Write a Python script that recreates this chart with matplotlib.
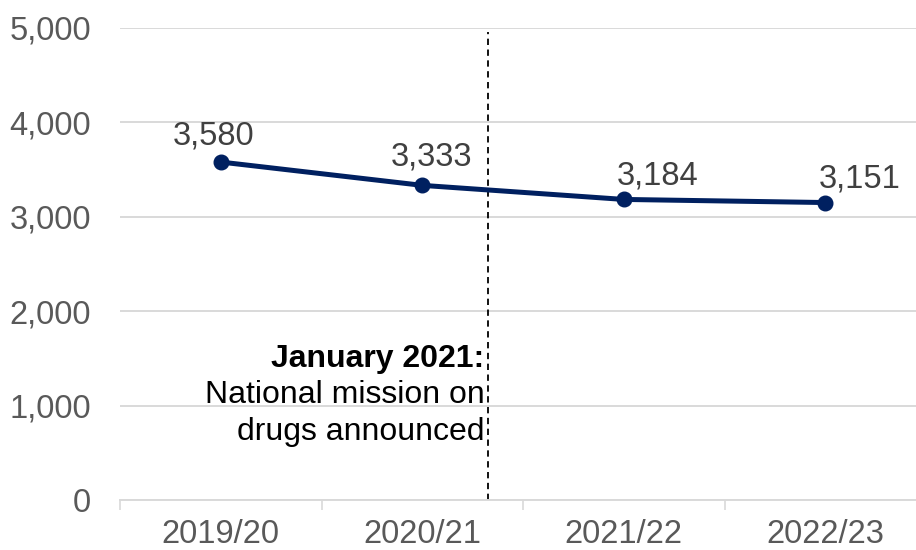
import matplotlib
matplotlib.use("Agg")
import matplotlib.pyplot as plt
from matplotlib.ticker import FuncFormatter, FixedLocator

years = ["2019/20", "2020/21", "2021/22", "2022/23"]
deaths = [3580, 3333, 3184, 3151]
y_ticks = [0, 1000, 2000, 3000, 4000, 5000]
note_title = "January 2021:"
note_lines = ["National mission on", "drugs announced"]

plt.rcParams['font.family'] = ['Liberation Sans', 'DejaVu Sans']

fig = plt.figure(figsize=(9.16, 5.5), dpi=100)
ax = fig.add_axes([120 / 916, 50 / 550, 796 / 916, 472 / 550])

x = list(range(len(years)))
ax.plot(x, deaths, color='#002060', linewidth=3.6, marker='o', markersize=10.5,
        solid_capstyle='round', zorder=3)

# label offsets (pixels) to mimic the original placement
label_dx = [-7, 9, 34, 34]
label_dy = [18, 20, 15, 15]
for xi, v, dx, dy in zip(x, deaths, label_dx, label_dy):
    ax.annotate(f"{v:,}", (xi, v), xytext=(dx * 0.72, dy * 0.72),
                textcoords='offset points', ha='center', va='baseline',
                fontsize=23.5, color='#404040')

# dashed marker for the national mission announcement
ax.axvline(1.328, ymin=0, ymax=0.992, color='black', linestyle=(0, (3.5, 2.5)),
           linewidth=1.3, zorder=2)
ax.text(1.31, 1409, note_title, ha='right', va='baseline', fontsize=23,
        fontweight='bold', color='black')
ax.text(1.31, 1028, note_lines[0], ha='right', va='baseline', fontsize=23, color='black')
ax.text(1.31, 636, note_lines[1], ha='right', va='baseline', fontsize=23, color='black')

ax.set_xlim(-0.5, 3.45)
ax.set_ylim(0, 5000)
ax.set_yticks(y_ticks)
ax.yaxis.set_major_formatter(FuncFormatter(lambda v, p: f"{int(v):,}"))
ax.set_xticks(x)
ax.set_xticklabels(years)
ax.xaxis.set_minor_locator(FixedLocator([-0.5, 0.5, 1.5, 2.5, 3.5]))

ax.tick_params(axis='y', length=0, pad=21, labelsize=23.5, labelcolor='#595959')
ax.tick_params(axis='x', which='major', length=0, pad=14, labelsize=23.5, labelcolor='#595959')
ax.tick_params(axis='x', which='minor', length=7, width=1.2, color='#d9d9d9')

ax.grid(axis='y', color='#d9d9d9', linewidth=1.4)
ax.set_axisbelow(True)
for s in ['top', 'right', 'left']:
    ax.spines[s].set_visible(False)
ax.spines['bottom'].set_color('#d9d9d9')
ax.spines['bottom'].set_linewidth(1.4)

fig.savefig("out.png", dpi=100)
